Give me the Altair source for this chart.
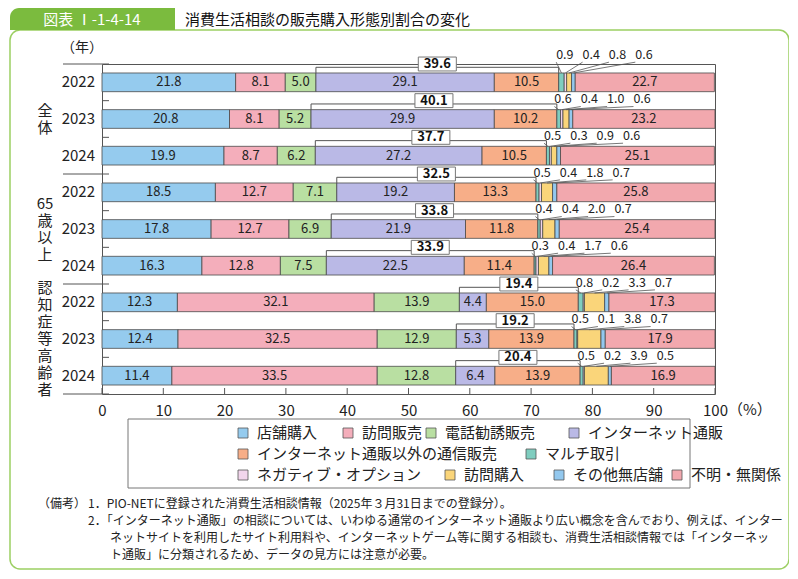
import altair as alt
import pandas as pd

FONT = "Noto Sans CJK JP"

categories = ["店舗購入", "訪問販売", "電話勧誘販売", "インターネット通販",
              "インターネット通販以外の通信販売", "マルチ取引", "ネガティブ・オプション",
              "訪問購入", "その他無店舗", "不明・無関係"]
colors = ["#95CBEE", "#F4AEBB", "#B9DFA2", "#BAB9E6", "#F7AE88",
          "#7FCDBF", "#F2D5EC", "#FAD57A", "#93C8EE", "#F2A8AE"]

groups = ["全\n体", "65\n歳\n以\n上", "認\n知\n症\n等\n高\n齢\n者"]
years = ["2022", "2023", "2024", "2022", "2023", "2024", "2022", "2023", "2024"]

store = [21.8, 20.8, 19.9, 18.5, 17.8, 16.3, 12.3, 12.4, 11.4]
door = [8.1, 8.1, 8.7, 12.7, 12.7, 12.8, 32.1, 32.5, 33.5]
phone = [5.0, 5.2, 6.2, 7.1, 6.9, 7.5, 13.9, 12.9, 12.8]
internet = [29.1, 29.9, 27.2, 19.2, 21.9, 22.5, 4.4, 5.3, 6.4]
mail = [10.5, 10.2, 10.5, 13.3, 11.8, 11.4, 15.0, 13.9, 13.9]
multi = [0.9, 0.6, 0.5, 0.5, 0.4, 0.3, 0.8, 0.5, 0.5]
negative = [0.4, 0.4, 0.3, 0.4, 0.4, 0.4, 0.2, 0.1, 0.2]
purchase = [0.8, 1.0, 0.9, 1.8, 2.0, 1.7, 3.3, 3.8, 3.9]
other = [0.6, 0.6, 0.6, 0.7, 0.7, 0.6, 0.7, 0.7, 0.5]
unknown = [22.7, 23.2, 25.1, 25.8, 25.4, 26.4, 17.3, 17.9, 16.9]
comm_total = [39.6, 40.1, 37.7, 32.5, 33.8, 33.9, 19.4, 19.2, 20.4]

series = [store, door, phone, internet, mail, multi, negative, purchase, other, unknown]
x_ticks = list(range(0, 101, 10))

ROW_PX = 330 / 9
LINE_H = 17

# ---------- derived tables ----------
seg_rows, brk_rows, box_rows, small_rows = [], [], [], []
for i in range(len(years)):
    cum = 0.0
    starts, ends = [], []
    for c, vals in enumerate(series):
        v = vals[i]
        starts.append(cum)
        ends.append(cum + v)
        seg_rows.append(dict(row=i, cat=categories[c], ci=c, x0=cum, x1=cum + v,
                             xm=cum + v / 2, yt=i + 0.245, yb=i + 0.755, yc=i + 0.5,
                             lab=f"{v:.1f}"))
        cum += v
    s, e = starts[3], ends[4]
    yb = i + 0.09
    for o, (xx, yy) in enumerate([(s, i + 0.245), (s, yb), (e, yb), (e, i + 0.245)]):
        brk_rows.append(dict(row=i, o=o, x=xx, y=yy))
    mid = (s + e) / 2
    box_rows.append(dict(row=i, xm=mid, xa=mid - 3.1, xb=mid + 3.1,
                         ya=i - 0.19, yb=i + 0.19, yc=i + 0.0, lab=f"{comm_total[i]:.1f}"))
    ly = (i - 0.25) if i == 0 else (i - 0.04)
    for k, c in enumerate(range(5, 9)):
        lx = e + 1.0 + 4.3 * k
        small_rows.append(dict(row=i, lx=lx, ly=ly, sx=(starts[c] + ends[c]) / 2,
                               sy=i + 0.245, ex=lx - 1.4, ey=ly + 0.2,
                               lab=f"{series[c][i]:.1f}"))

seg = pd.DataFrame(seg_rows)
brk = pd.DataFrame(brk_rows)
box = pd.DataFrame(box_rows)
small = pd.DataFrame(small_rows)
year_df = pd.DataFrame(dict(y=[i + 0.5 for i in range(9)], t=years))
group_centers = [1.5, 4.5, 7.5]
group_df = pd.DataFrame(dict(
    y=[c - (g.count("\n")) * LINE_H / ROW_PX / 2 for c, g in zip(group_centers, groups)],
    t=groups))
sep_df = pd.DataFrame(dict(y=[0, 3, 6, 9]))
rowtick_df = pd.DataFrame(dict(y=[1, 2, 4, 5, 7, 8]))
xtick_df = pd.DataFrame(dict(x=x_ticks))

xscale = alt.Scale(domain=[0, 100], nice=False, zero=True)
yscale = alt.Scale(domain=[0, 9], reverse=True, nice=False, zero=False)


def X(f):
    return alt.X(f, type="quantitative", scale=xscale, title=None)


def Y(f):
    return alt.Y(f, type="quantitative", scale=yscale, axis=None, title=None)


def txt(s, x, y, size=12, color="#222", align="left", weight="normal", **kw):
    return alt.Chart(pd.DataFrame({"t": [s]})).mark_text(
        font=FONT, fontSize=size, color=color, align=align, baseline="middle",
        fontWeight=weight, **kw
    ).encode(x=alt.value(x), y=alt.value(y), text="t:N")


def rect(x, y, x2, y2, **kw):
    return alt.Chart(pd.DataFrame({"a": [0]})).mark_rect(**kw).encode(
        x=alt.value(x), y=alt.value(y), x2=alt.value(x2), y2=alt.value(y2))


# ---------- frame & title ----------
frame = rect(-92, -34, 687, 505, fill="white", fillOpacity=0, stroke="#9CCF63",
             strokeWidth=1.5, cornerRadius=10)
title_box = rect(-92, -56, 73, -34, fill="#7BBB3E", cornerRadiusTopLeft=9)
title_id = txt("図表 Ⅰ-1-4-14", -10, -44, size=15, color="white", align="center")
title_txt = txt("消費生活相談の販売購入形態別割合の変化", 83, -44, size=15, color="#111")
nen = txt("（年）", -20, -16, size=14, align="center")

# ---------- main ----------
bars = alt.Chart(seg).mark_bar(stroke="#4a4a4a", strokeWidth=0.8).encode(
    x=alt.X("x0:Q", scale=xscale, title=None,
            axis=alt.Axis(values=x_ticks, ticks=False, domain=False, grid=False,
                          labelFontSize=15, labelPadding=9, labelColor="#222",
                          labelFont=FONT, labelFlush=False)),
    x2="x1:Q",
    y=Y("yt"), y2="yb:Q",
    color=alt.Color("cat:N", scale=alt.Scale(domain=categories, range=colors), legend=None),
)

big = seg[seg["ci"].isin([0, 1, 2, 3, 4, 9])]
vals = alt.Chart(big).mark_text(font=FONT, fontSize=13, color="#222").encode(
    x=X("xm"), y=Y("yc"), text="lab:N")

bracket = alt.Chart(brk).mark_line(color="#555", strokeWidth=1).encode(
    x=X("x"), y=Y("y"), detail="row:N", order="o:Q")

boxr = alt.Chart(box).mark_rect(fill="white", stroke="#777", strokeWidth=1).encode(
    x=X("xa"), x2="xb:Q", y=Y("ya"), y2="yb:Q")
boxt = alt.Chart(box).mark_text(font=FONT, fontSize=13, fontWeight="bold", color="#111").encode(
    x=X("xm"), y=Y("yc"), text="lab:N")

leaders = alt.Chart(small).mark_rule(color="#555", strokeWidth=0.8).encode(
    x=X("sx"), y=Y("sy"), x2="ex:Q", y2="ey:Q")
smallt = alt.Chart(small).mark_text(font=FONT, fontSize=12.5, color="#222").encode(
    x=X("lx"), y=Y("ly"), text="lab:N")

xticks = alt.Chart(xtick_df).mark_rule(color="#555").encode(
    x=X("x"), y=alt.value(324), y2=alt.value(330))
seps = alt.Chart(sep_df).mark_rule(color="#555").encode(
    y=Y("y"), x=alt.value(-39), x2=alt.value(7))
rowticks = alt.Chart(rowtick_df).mark_rule(color="#555").encode(
    y=Y("y"), x=alt.value(0), x2=alt.value(7))

yearlab = alt.Chart(year_df).mark_text(font=FONT, fontSize=15, color="#222", align="right").encode(
    x=alt.value(-7), y=Y("y"), text="t:N")
grouplab = alt.Chart(group_df).mark_text(font=FONT, fontSize=15, color="#222", align="center",
                                         baseline="middle", lineBreak="\n",
                                         lineHeight=LINE_H).encode(
    x=alt.value(-57), y=Y("y"), text="t:N")
pct = txt("（%）", 626, 346, size=15, align="left")

# ---------- legend ----------
leg_items = [
    (0, 155, 369), (1, 260, 369), (2, 343, 369), (3, 486, 369),
    (4, 155, 390), (5, 443, 390),
    (6, 155, 411), (7, 362, 411), (8, 471, 411), (9, 589, 411),
]
leg_layers = [rect(26, 355, 588, 424, fill="white", stroke="#777", strokeWidth=1)]
for ci, tx, ty in leg_items:
    leg_layers.append(rect(tx - 19, ty - 5, tx - 9, ty + 5, fill=colors[ci],
                           stroke="#555", strokeWidth=0.8))
    leg_layers.append(txt(categories[ci], tx, ty, size=15))

# ---------- notes ----------
notes = [
    txt("（備考）", -64, 440, size=12),
    txt("1．PIO-NETに登録された消費生活相談情報（2025年３月31日までの登録分）。", -14, 440, size=12),
    txt("2．「インターネット通販」の相談については、いわゆる通常のインターネット通販より広い概念を含んでおり、例えば、インター",
        -14, 457, size=12),
    txt("ネットサイトを利用したサイト利用料や、インターネットゲーム等に関する相談も、消費生活相談情報では「インターネッ",
        8, 474, size=12),
    txt("ト通販」に分類されるため、データの見方には注意が必要。", 8, 491, size=12),
]

chart = alt.layer(
    frame, title_box, title_id, title_txt, nen,
    bars, vals, bracket, boxr, boxt, leaders, smallt,
    xticks, seps, rowticks, yearlab, grouplab, pct,
    *leg_layers, *notes,
).properties(
    width=613, height=330,
    autosize=alt.AutoSizeParams(type="none"),
    padding={"left": 94, "top": 56, "right": 74, "bottom": 176},
).configure_view(stroke="#555", strokeWidth=1).configure_text(font=FONT)

chart.save("out.html", embed_options={"renderer": "svg", "actions": False})
